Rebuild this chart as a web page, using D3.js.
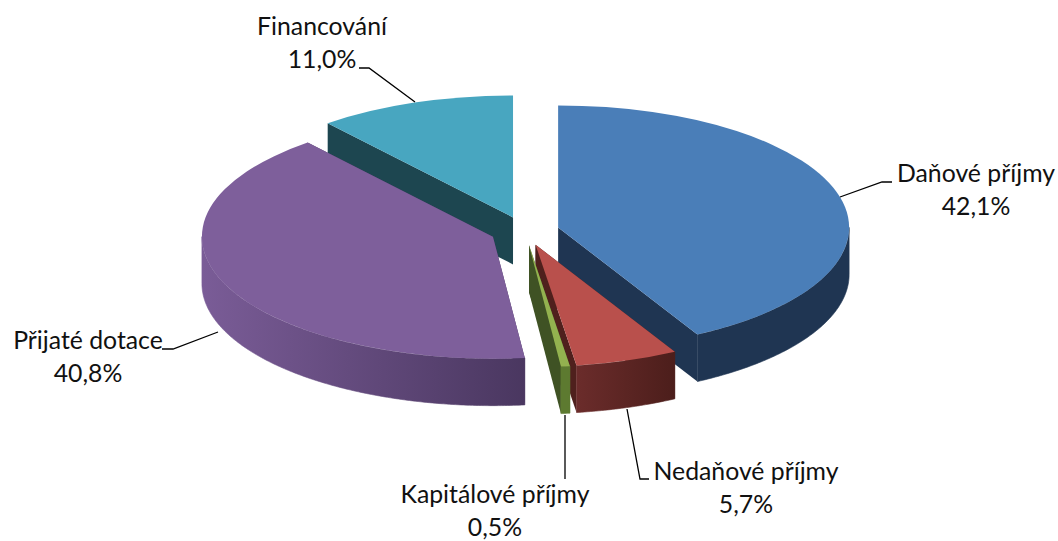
<!DOCTYPE html>
<html>
<head>
<meta charset="utf-8">
<script src="https://cdnjs.cloudflare.com/ajax/libs/d3/7.8.5/d3.min.js"></script>
<style>
    body { margin: 0; background: #fff; }
    svg { display: block; }
    text { font-family: Lato, "Open Sans", sans-serif; font-size: 24.8px; fill: #111; text-anchor: middle; }
</style>
</head>
<body>
<div id="chart-area"></div>
<script>
// data
let categories = ["Daňové příjmy", "Nedaňové příjmy", "Kapitálové příjmy", "Přijaté dotace", "Financování"];
let shares = [42.1, 5.7, 0.5, 40.8, 11.0];

// colours per slice, same order as categories
let topColors = ["#4a7eb8", "#b9504c", "#93b24f", "#7e5f9b", "#48a6c0"];
let cutColors = ["#1f3552", "#4f201d", "#3f5224", "#4a3760", "#1d4650"];
let wallLeft = ["#1f3552", "#6b2c2b", "#5d7a30", "#7a5c97", "#1d4650"];
let wallRight = ["#1f3552", "#4c1e1b", "#5d7a30", "#4a3760", "#1d4650"];

// label places and leader lines, same order
let labelPos = [[976, 182], [746, 480], [495, 503], [88, 349], [322, 35]];
let leaders = [
    [[840, 197], [882, 182], [892, 182]],
    [[627, 409], [640, 479], [649, 479]],
    [[565, 415], [565, 479]],
    [[218, 332], [173, 349], [162, 349]],
    [[415, 102], [369, 68], [359, 68]]
];

let width = 1058, height = 541;

// pie geometry
let cx = 524.7, cy = 231;
let rx = 291, ry = 122;
let depth = 47;
let explode = 34.5;
let lineGap = 32.5;

// back to front
let drawOrder = [4, 0, 3, 1, 2];

let svg = d3.select("#chart-area").append("svg")
    .attr("width", width)
    .attr("height", height);

let defs = svg.append("defs");

let pie = d3.pie().sort(null).value(d => d);
let slices = pie(shares);

let arc = d3.arc().innerRadius(0).outerRadius(rx);
let line = d3.line();

// point on the rim of a slice, relative to its tip
function rim(a) {
    return [rx * Math.sin(a), -ry * Math.cos(a)];
}

drawOrder.forEach(i => {
    let s = slices[i];
    let mid = (s.startAngle + s.endAngle) / 2;
    let tipX = cx + explode * Math.sin(mid);
    let tipY = cy - explode * (ry / rx) * Math.cos(mid);

    let g = svg.append("g")
        .attr("transform", "translate(" + tipX + "," + tipY + ")");

    // the two cut faces
    [s.startAngle, s.endAngle].forEach(a => {
        let p = rim(a);
        g.append("path")
            .attr("d", line([[0, 0], p, [p[0], p[1] + depth], [0, depth]]) + "Z")
            .attr("fill", cutColors[i]);
    });

    // outer wall, only the part that faces the viewer
    let from = Math.max(s.startAngle, Math.PI / 2);
    let to = Math.min(s.endAngle, 3 * Math.PI / 2);
    if (to > from) {
        let angles = d3.range(from, to, 0.01).concat([to]);
        let upper = angles.map(rim);
        let lower = angles.map(a => [rim(a)[0], rim(a)[1] + depth]).reverse();
        let xs = d3.extent(upper, d => d[0]);

        let grad = defs.append("linearGradient")
            .attr("id", "wall" + i)
            .attr("gradientUnits", "userSpaceOnUse")
            .attr("x1", xs[0]).attr("x2", xs[1])
            .attr("y1", 0).attr("y2", 0);
        grad.append("stop").attr("offset", 0).attr("stop-color", wallLeft[i]);
        grad.append("stop").attr("offset", 1).attr("stop-color", wallRight[i]);

        // thin stroke so no light seam shows next to the cut face
        g.append("path")
            .attr("d", line(upper.concat(lower)) + "Z")
            .attr("fill", "url(#wall" + i + ")")
            .attr("stroke", "url(#wall" + i + ")")
            .attr("stroke-width", 0.6);
    }

    // top face
    g.append("path")
        .attr("transform", "scale(1," + (ry / rx) + ")")
        .attr("d", arc(s))
        .attr("fill", topColors[i]);
});

// leader lines
svg.selectAll(".leader")
    .data(leaders)
    .enter().append("path")
    .attr("class", "leader")
    .attr("d", d => line(d))
    .attr("fill", "none")
    .attr("stroke", "#000")
    .attr("stroke-width", 1.3);

// labels
let czech = d3.formatLocale({decimal: ",", thousands: " ", grouping: [3], currency: ["", " Kč"]});
let pct = czech.format(".1f");

let label = svg.selectAll(".label")
    .data(categories)
    .enter().append("text")
    .attr("class", "label")
    .attr("transform", (d, i) => "translate(" + labelPos[i][0] + "," + labelPos[i][1] + ")");

label.append("tspan")
    .attr("x", 0).attr("y", 0)
    .text(d => d);

label.append("tspan")
    .attr("x", 0).attr("y", lineGap)
    .text((d, i) => pct(shares[i]) + "%");
</script>
</body>
</html>
